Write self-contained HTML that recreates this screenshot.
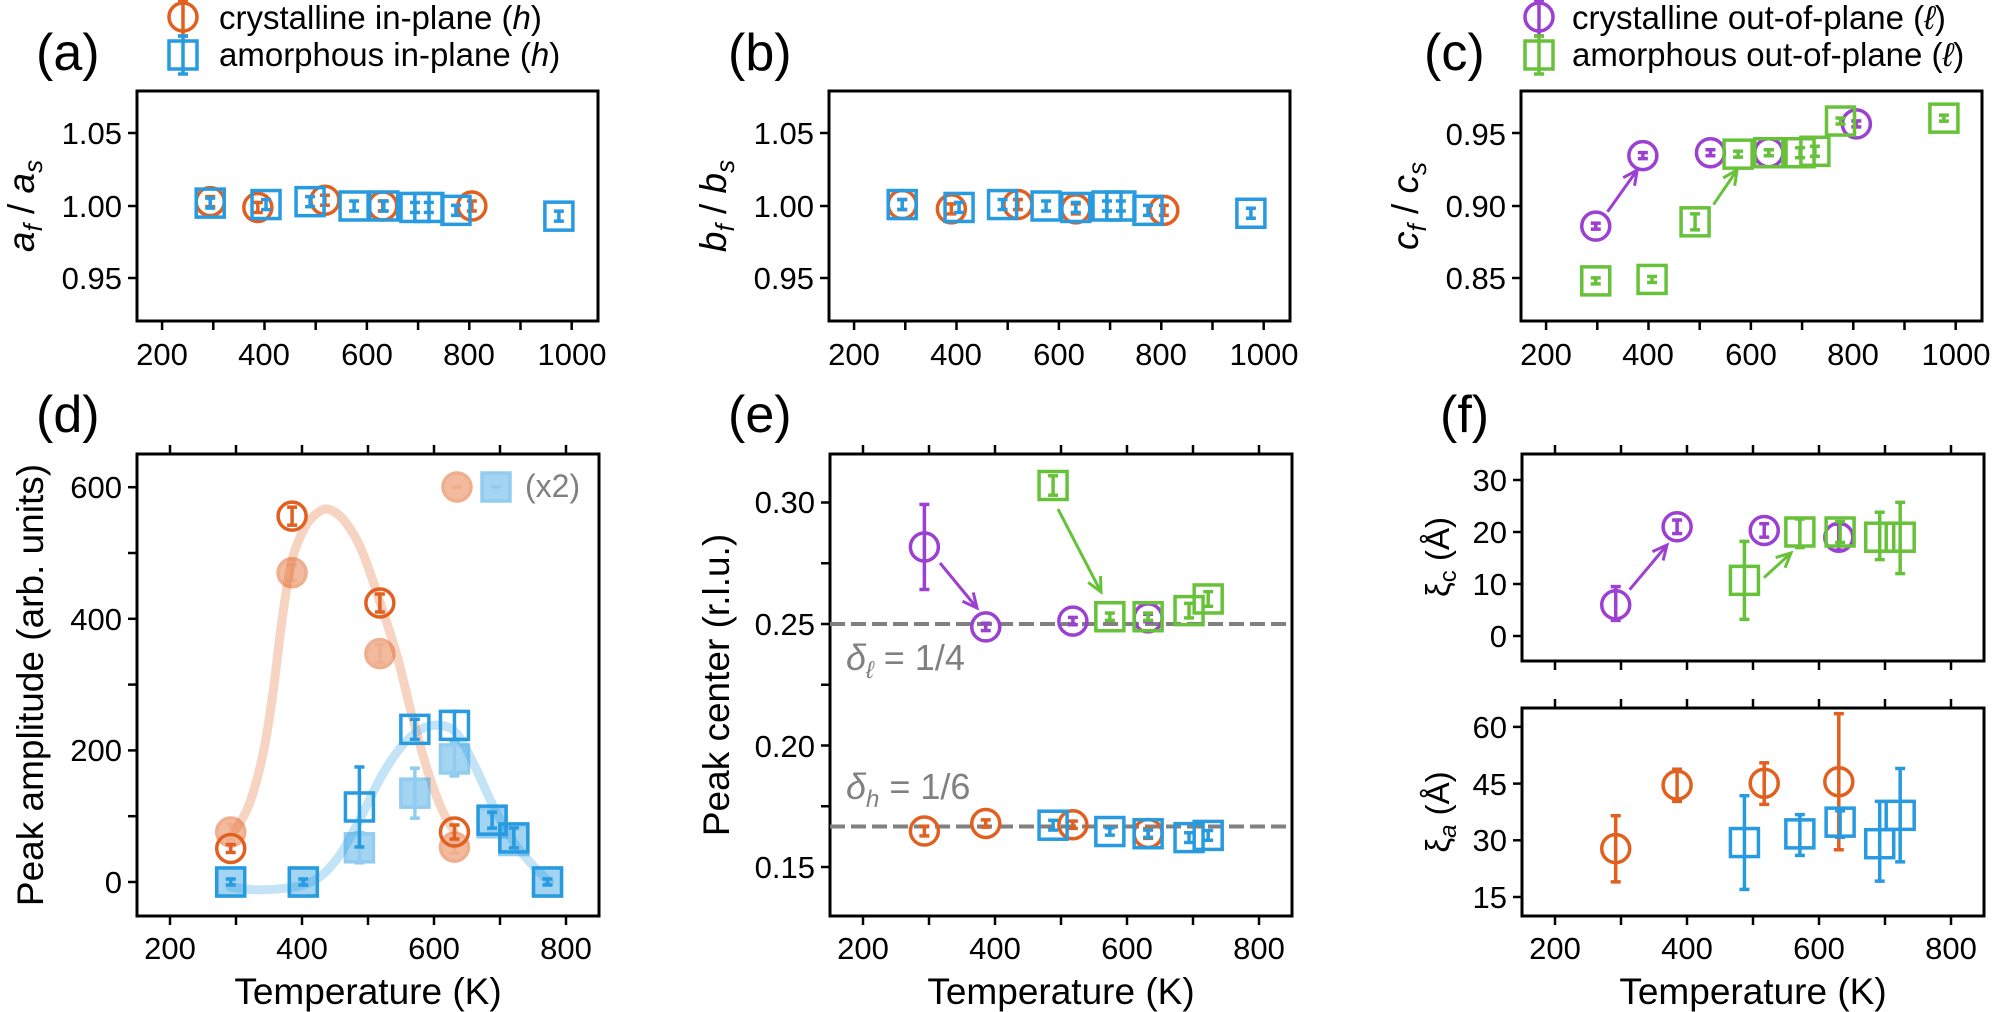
<!DOCTYPE html>
<html><head><meta charset="utf-8"><style>
html,body{margin:0;padding:0;background:#fff;}
svg{display:block;font-family:"Liberation Sans",Arial,sans-serif;}
.t{font-size:31px;fill:#000;}
.lg{font-size:33px;fill:#000;}
.lab{font-size:37px;fill:#000;}
.pl{font-size:52px;fill:#000;}
</style></head><body>
<svg id="s" width="1994" height="1012" viewBox="0 0 1994 1012" xmlns="http://www.w3.org/2000/svg">
<g id="g"></g>
<text class="pl" x="36" y="70">(a)</text>
<text class="pl" x="728" y="70">(b)</text>
<text class="pl" x="1424" y="70">(c)</text>
<text class="pl" x="36" y="432">(d)</text>
<text class="pl" x="728" y="432">(e)</text>
<text class="pl" x="1440" y="432">(f)</text>
<text class="lg" x="219" y="29">crystalline in-plane (<tspan font-style="italic">h</tspan>)</text>
<text class="lg" x="219" y="66">amorphous in-plane (<tspan font-style="italic">h</tspan>)</text>
<text class="lg" x="1572" y="29">crystalline out-of-plane (<tspan font-style="italic">ℓ</tspan>)</text>
<text class="lg" x="1572" y="66">amorphous out-of-plane (<tspan font-style="italic">ℓ</tspan>)</text>
<g class="t" text-anchor="end">
<text x="122" y="144">1.05</text><text x="122" y="217">1.00</text><text x="122" y="289">0.95</text>
<text x="814" y="144">1.05</text><text x="814" y="217">1.00</text><text x="814" y="289">0.95</text>
<text x="1506" y="145">0.95</text><text x="1506" y="217">0.90</text><text x="1506" y="289">0.85</text>
<text x="122" y="498">600</text><text x="122" y="630">400</text><text x="122" y="761">200</text><text x="122" y="893">0</text>
<text x="815" y="513">0.30</text><text x="815" y="635">0.25</text><text x="815" y="757">0.20</text><text x="815" y="878">0.15</text>
<text x="1507" y="491">30</text><text x="1507" y="543">20</text><text x="1507" y="595">10</text><text x="1507" y="647">0</text>
<text x="1507" y="738">60</text><text x="1507" y="795">45</text><text x="1507" y="851">30</text><text x="1507" y="908">15</text>
</g>
<g class="t" text-anchor="middle">
<text x="162" y="365">200</text><text x="264" y="365">400</text><text x="367" y="365">600</text><text x="469" y="365">800</text><text x="572" y="365">1000</text>
<text x="854" y="365">200</text><text x="956" y="365">400</text><text x="1059" y="365">600</text><text x="1161" y="365">800</text><text x="1264" y="365">1000</text>
<text x="1546" y="365">200</text><text x="1648" y="365">400</text><text x="1751" y="365">600</text><text x="1853" y="365">800</text><text x="1956" y="365">1000</text>
<text x="170" y="959">200</text><text x="302" y="959">400</text><text x="434" y="959">600</text><text x="566" y="959">800</text>
<text x="863" y="959">200</text><text x="995" y="959">400</text><text x="1127" y="959">600</text><text x="1259" y="959">800</text>
<text x="1555" y="959">200</text><text x="1687" y="959">400</text><text x="1819" y="959">600</text><text x="1951" y="959">800</text>
</g>
<g class="lab" text-anchor="middle">
<text x="368" y="1004">Temperature (K)</text>
<text x="1061" y="1004">Temperature (K)</text>
<text x="1753" y="1004">Temperature (K)</text>
<text transform="translate(43,685) rotate(-90)">Peak amplitude (arb. units)</text>
<text transform="translate(729,685) rotate(-90)">Peak center (r.l.u.)</text>
<text transform="translate(34,206) rotate(-90)" font-style="italic">a<tspan font-size="26" dy="8">f</tspan><tspan dy="-8" font-style="normal"> / </tspan>a<tspan font-size="26" dy="8">s</tspan></text>
<text transform="translate(726,206) rotate(-90)" font-style="italic">b<tspan font-size="26" dy="8">f</tspan><tspan dy="-8" font-style="normal"> / </tspan>b<tspan font-size="26" dy="8">s</tspan></text>
<text transform="translate(1418,206) rotate(-90)" font-style="italic">c<tspan font-size="26" dy="8">f</tspan><tspan dy="-8" font-style="normal"> / </tspan>c<tspan font-size="26" dy="8">s</tspan></text>
<text transform="translate(1449,557) rotate(-90)" font-size="33">ξ<tspan font-size="24" dy="7">c</tspan><tspan dy="-7"> (Å)</tspan></text>
<text transform="translate(1449,812) rotate(-90)" font-size="33">ξ<tspan font-size="24" dy="7" font-style="italic">a</tspan><tspan dy="-7"> (Å)</tspan></text>
</g>
<text x="846" y="670" font-size="36" fill="#808080"><tspan font-style="italic">δ</tspan><tspan font-size="24" dy="8" font-style="italic">ℓ</tspan><tspan dy="-8"> = 1/4</tspan></text>
<text x="846" y="799" font-size="36" fill="#808080"><tspan font-style="italic">δ</tspan><tspan font-size="24" dy="8" font-style="italic">h</tspan><tspan dy="-8"> = 1/6</tspan></text>
<text x="525" y="497" font-size="32" fill="#808080">(x2)</text>
</svg>
<script>
var NS="http://www.w3.org/2000/svg",G=document.getElementById('g');
function el(t,a){var e=document.createElementNS(NS,t);for(var k in a)e.setAttribute(k,a[k]);G.appendChild(e);return e;}
var OR="#e1601f",BL="#279ae0",PU="#9b40d0",GR="#67c23a";
function ln(x1,y1,x2,y2,c,w,extra){var a={x1:x1,y1:y1,x2:x2,y2:y2,stroke:c,'stroke-width':w||3};for(var k in extra)a[k]=extra[k];return el('line',a);}
function box(x0,y0,x1,y1){el('rect',{x:x0,y:y0,width:x1-x0,height:y1-y0,fill:'none',stroke:'#000','stroke-width':3});}
function mk(type,x,y,c,lo,hi,filled){
  var op=filled?0.5:1;
  if(lo===undefined){lo=y+3;hi=y-3;}
  var g=el('g',{opacity:op});
  function add(t,a){var e=document.createElementNS(NS,t);for(var k in a)e.setAttribute(k,a[k]);g.appendChild(e);}
  add('line',{x1:x,y1:lo,x2:x,y2:hi,stroke:c,'stroke-width':3.5});
  add('line',{x1:x-5,y1:lo,x2:x+5,y2:lo,stroke:c,'stroke-width':3.5});
  add('line',{x1:x-5,y1:hi,x2:x+5,y2:hi,stroke:c,'stroke-width':3.5});
  if(type=='o')add('circle',{cx:x,cy:y,r:14,fill:filled?c:'none',stroke:c,'stroke-width':3.5,'fill-opacity':filled?0.85:0});
  else add('rect',{x:x-14,y:y-14,width:28,height:28,fill:filled?c:'none',stroke:c,'stroke-width':3.5,'fill-opacity':filled?0.85:0});
}
function arrow(x1,y1,x2,y2,c){
  ln(x1,y1,x2,y2,c,3);
  var a=Math.atan2(y2-y1,x2-x1),L=16;
  el('polyline',{points:(x2-L*Math.cos(a-0.45))+','+(y2-L*Math.sin(a-0.45))+' '+x2+','+y2+' '+(x2-L*Math.cos(a+0.45))+','+(y2-L*Math.sin(a+0.45)),fill:'none',stroke:c,'stroke-width':3});
}
var offs=[137,829,1521];
offs.forEach(function(o,i){
  box(o,91,o+461,321);
  for(var T=200;T<=1000;T+=100){var x=o+(T-151)*0.512;ln(x,321,x,330,'#000',2.5);}
  [133,206,278].forEach(function(y){ln(o-9,y,o,y,'#000',2.5);});
});
function XA(o,T){return o+(T-151)*0.512;}
function YA(v){return 206-(v-1)*1450;}
function rowAB(o,circ,sq){
  circ.forEach(function(p){mk('o',XA(o,p[0]),YA(p[1]),OR,YA(p[1])+5,YA(p[1])-5);});
  sq.forEach(function(p){mk('s',XA(o,p[0]),YA(p[1]),BL,YA(p[1])+5,YA(p[1])-5);});
}
rowAB(137,[[294,1.003],[387,0.999],[518,1.004],[631,1.000],[805,1.000]],
 [[294,1.002],[403,1.001],[489,1.003],[575,1.000],[633,1.000],[694,0.999],[721,0.999],[774,0.997],[975,0.993]]);
rowAB(829,[[294,1.001],[390,0.998],[520,1.001],[633,0.998],[805,0.997]],
 [[294,1.001],[405,0.999],[490,1.001],[575,1.000],[633,0.999],[694,1.000],[721,1.000],[774,0.997],[975,0.995]]);
function YC(v){return 206-(v-0.9)*1440;}
[[297,0.886],[389,0.935],[521,0.937],[635,0.937],[806,0.957]].forEach(function(p){mk('o',XA(1521,p[0]),YC(p[1]),PU);});
[[297,0.848],[407,0.849],[491,0.889,8],[575,0.936],[635,0.937],[696,0.937,5],[725,0.938,5],[775,0.959],[977,0.961]].forEach(function(p){var y=YC(p[1]),e=p[2]||3;mk('s',XA(1521,p[0]),y,GR,y+e,y-e);});
arrow(XA(1521,320),YC(0.896),XA(1521,378),YC(0.925),PU);
arrow(XA(1521,527),YC(0.901),XA(1521,573),YC(0.925),GR);
mk('o',183,17,OR,0,36);mk('s',183,55,BL,36,74);
mk('o',1539,17,PU,0,36);mk('s',1539,55,GR,36,74);
function xt(o,yb,yt){for(var T=200;T<=800;T+=100){var x=o+(T-150)*0.66;ln(x,yb,x,yb+9,'#000',2.5);ln(x,yt,x,yt-9,'#000',2.5);}}
box(137,454,599,916);xt(137,916,454);
for(var v=0;v<=600;v+=100)ln(128,882-v*0.658,137,882-v*0.658,'#000',2.5);
box(830,454,1292,916);xt(830,916,454);
for(var v=0.15;v<=0.3001;v+=0.025)ln(821,624-(v-0.25)*2430,830,624-(v-0.25)*2430,'#000',2.5);
box(1522,454,1984,661);box(1522,708,1984,916);
for(var T=200;T<=800;T+=100){var x=1522+(T-150)*0.66;ln(x,661,x,670,'#000',2.5);ln(x,454,x,445,'#000',2.5);ln(x,916,x,925,'#000',2.5);ln(x,708,x,699,'#000',2.5);}
[0,10,20,30].forEach(function(v){var y=636-v*5.2;ln(1513,y,1522,y,'#000',2.5);});
[15,30,45,60].forEach(function(v){var y=897-(v-15)*3.78;ln(1513,y,1522,y,'#000',2.5);});
function XD(T){return 137+(T-150)*0.66;}function YD(v){return 882-v*0.658;}
function curve(pts,c){var P=pts.map(function(p){return [XD(p[0]),YD(p[1])];});var d='M'+P[0][0]+','+P[0][1];
 for(var i=0;i<P.length-1;i++){var p0=P[i-1]||P[i],p1=P[i],p2=P[i+1],p3=P[i+2]||p2;
 d+=' C'+(p1[0]+(p2[0]-p0[0])/6)+','+(p1[1]+(p2[1]-p0[1])/6)+' '+(p2[0]-(p3[0]-p1[0])/6)+','+(p2[1]-(p3[1]-p1[1])/6)+' '+p2[0]+','+p2[1];}
 el('path',{d:d,fill:'none',stroke:c,'stroke-width':9,'stroke-opacity':0.28,'stroke-linecap':'round'});}
curve([[300,80],[320,118],[340,190],[355,280],[370,400],[385,490],[405,540],[425,562],[442,566],[465,548],[490,505],[520,420],[545,340],[565,260],[590,170],[612,110],[630,78]],OR);
curve([[292,-8],[330,-12],[370,-10],[400,-5],[430,10],[460,45],[490,100],[520,160],[550,205],[580,232],[610,238],[635,225],[660,180],[690,115],[720,62],[750,25],[775,0]],BL);
function dp(t,T,v,c,e,f){var y=YD(v);e=e||6;mk(t,XD(T),y,c,y+e,y-e,f);}
dp('o',292,76,OR,8,1);dp('o',385,470,OR,8,1);dp('o',518,347,OR,9,1);dp('o',631,53,OR,6,1);
dp('s',292,0,BL,3,1);dp('s',402,0,BL,3,1);dp('s',487,52,BL,15,1);dp('s',571,135,BL,25,1);dp('s',631,187,BL,17,1);dp('s',688,90,BL,8,1);dp('s',721,63,BL,12,1);dp('s',772,0,BL,3,1);
dp('o',385,556,OR,9);dp('o',518,424,OR,9);dp('o',631,76,OR,7);dp('o',292,51,OR,4);
dp('s',292,0,BL,3);dp('s',402,0,BL,3);dp('s',487,114,BL,40);dp('s',571,232,BL,10);dp('s',631,238,BL,14);dp('s',688,94,BL,8);dp('s',721,67,BL,10);dp('s',772,0,BL,3);
mk('o',457,487,OR,487,487,1);mk('s',496,487,BL,487,487,1);
function XE(T){return 830+(T-150)*0.66;}function YE(v){return 624-(v-0.25)*2430;}
ln(830,YE(0.25),1292,YE(0.25),'#808080',4,{'stroke-dasharray':'15,6'});
ln(830,YE(1/6),1292,YE(1/6),'#808080',4,{'stroke-dasharray':'15,6'});
function ep(t,T,v,c,e){var y=YE(v);e=(e||0.0015)*2430;mk(t,XE(T),y,c,y+e,y-e);}
ep('o',293,0.2817,PU,0.0175);ep('o',632,0.2525,PU);
[[386,0.2488],[518,0.2512]].forEach(function(p){ep('o',p[0],p[1],PU);});
ep('s',488,0.307,GR,0.004);ep('s',574,0.253,GR);ep('s',632,0.253,GR);ep('s',694,0.2555,GR,0.003);ep('s',723,0.2603,GR,0.003);
ep('o',293,0.1648,OR,0.002);ep('o',386,0.1679,OR);ep('o',518,0.1674,OR);ep('o',632,0.1638,OR,0.002);
ep('s',488,0.1672,BL,0.002);ep('s',574,0.1646,BL);ep('s',632,0.1637,BL);ep('s',694,0.1621,BL,0.002);ep('s',723,0.163,BL,0.002);
arrow(940,563,977,608,PU);arrow(1058,509,1101,592,GR);
function XF(T){return 1522+(T-150)*0.66;}function YT(v){return 636-v*5.2;}function YB(v){return 897-(v-15)*3.78;}
function fp(t,T,v,lo,hi,c,Y){mk(t,XF(T),Y(v),c,Y(lo),Y(hi));}
fp('o',292,6,3,9.5,PU,YT);fp('o',385,21,19.7,22.3,PU,YT);fp('o',517,20.3,19,21.6,PU,YT);fp('o',630,19,16.5,21.5,PU,YT);
fp('s',487,10.7,3.2,18.2,GR,YT);fp('s',571,20,17,22.5,GR,YT);fp('s',632,20,18,22,GR,YT);fp('s',692,19,14.7,23.8,GR,YT);fp('s',723,19,12,25.7,GR,YT);
arrow(1629.6,589.7,1667,545,PU);arrow(1764,577.6,1791,553,GR);
fp('o',292,27.8,19,36.5,OR,YB);fp('o',385,44.6,40.3,48.8,OR,YB);fp('o',517,45.1,39.5,50.5,OR,YB);fp('o',630,45.5,27.5,63.5,OR,YB);
fp('s',487,29.4,17,41.8,BL,YB);fp('s',571,31.7,26,36.8,BL,YB);fp('s',632,34.8,30.8,37.8,BL,YB);fp('s',692,29.1,19.2,40.3,BL,YB);fp('s',723,36.6,24.3,49,BL,YB);
</script>
</body></html>
